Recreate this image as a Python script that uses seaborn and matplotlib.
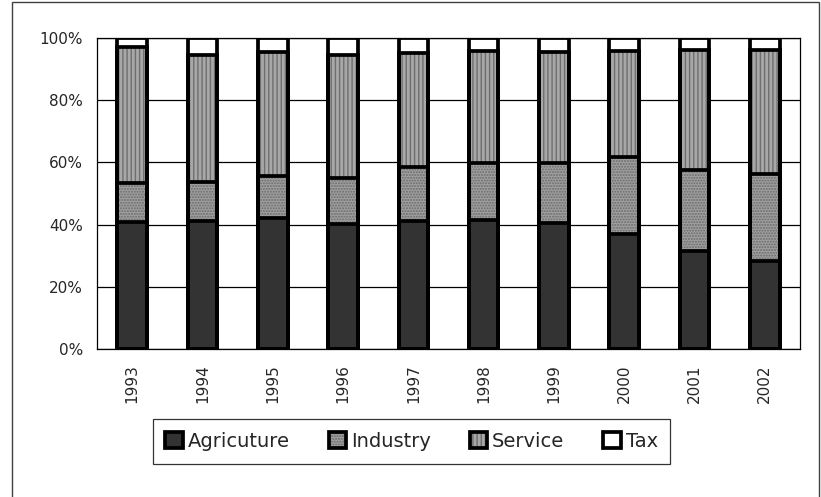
import matplotlib
matplotlib.use("Agg")
import matplotlib.pyplot as plt
from matplotlib.patches import Patch, Rectangle
from matplotlib.ticker import PercentFormatter, FixedLocator
import seaborn as sns

# data (shares in %)
years = ["1993", "1994", "1995", "1996", "1997", "1998", "1999", "2000", "2001", "2002"]
agriculture = [40.9, 41.3, 42.0, 40.2, 41.3, 41.5, 40.4, 36.9, 31.5, 28.4]
industry = [12.6, 12.5, 13.7, 14.9, 17.1, 18.2, 19.3, 24.7, 26.1, 27.9]
service = [43.5, 40.7, 39.7, 39.4, 36.7, 36.2, 35.9, 34.3, 38.5, 39.8]
tax = [3.0, 5.5, 4.6, 5.5, 4.9, 4.1, 4.4, 4.1, 3.9, 3.9]

series_names = ["Agricuture", "Industry", "Service", "Tax"]

# cumulative tops, drawn from tallest to shortest so lower segments overlap
top_agri = agriculture
top_ind = [a + b for a, b in zip(top_agri, industry)]
top_serv = [a + b for a, b in zip(top_ind, service)]
top_tax = [a + b for a, b in zip(top_serv, tax)]

sns.set_style("white")
plt.rcParams["font.family"] = ["DejaVu Sans"]
plt.rcParams["hatch.linewidth"] = 1.0

fig = plt.figure(figsize=(8.21, 4.97), dpi=100)
ax = fig.add_axes([97 / 821, 1 - 349 / 497, 703 / 821, 311 / 497])

bar_w = 0.42
edge_lw = 2.7
styles = [
    (top_tax, "white", "", "white"),
    (top_serv, "#a8a8a8", "||||", "#6e6e6e"),
    (top_ind, "#a0a0a0", "......", "#6a6a6a"),
    (top_agri, "#333333", "", "#333333"),
]
for tops, face, hatch, hcol in styles:
    sns.barplot(x=years, y=tops, color=face, saturation=1, width=bar_w,
                hatch=hatch, edgecolor=hcol, linewidth=0, ax=ax, zorder=2)
for tops, *_ in styles:
    sns.barplot(x=years, y=tops, fill=False, color="black", width=bar_w,
                linewidth=edge_lw, ax=ax, zorder=3)

ax.set_xlim(-0.5, len(years) - 0.5)
ax.set_ylim(0, 100)
ax.yaxis.set_major_locator(FixedLocator([0, 20, 40, 60, 80, 100]))
ax.yaxis.set_major_formatter(PercentFormatter(decimals=0))
ax.grid(axis="y", color="black", linewidth=0.9, zorder=0)
ax.set_axisbelow(True)
for sp in ax.spines.values():
    sp.set_color("black")
    sp.set_linewidth(0.9)

ax.set_xticks(range(len(years)))
ax.set_xticklabels(years, rotation=90)
ax.xaxis.set_minor_locator(FixedLocator([i - 0.5 for i in range(len(years) + 1)]))
ax.tick_params(axis="x", which="major", length=0, pad=11, labelsize=11)
ax.tick_params(axis="x", which="minor", length=5, width=0.9, color="black", direction="out")
ax.tick_params(axis="y", length=8, width=0.9, color="black", direction="out",
               labelsize=11, pad=2)
ax.set_xlabel("")
ax.set_ylabel("")

# legend with patterned squares and black outlines
legend_face = [("#333333", ""), ("#a0a0a0", "......"), ("#a8a8a8", "||||"), ("white", "")]
hatch_col = ["#333333", "#6a6a6a", "#6e6e6e", "white"]
handles = []
for (face, hatch), hc in zip(legend_face, hatch_col):
    inner = Patch(facecolor=face, hatch=hatch, edgecolor=hc, linewidth=0)
    outline = Patch(facecolor="none", edgecolor="black", linewidth=edge_lw)
    handles.append((inner, outline))
leg = fig.legend(handles, series_names, loc="center", ncol=4,
                 bbox_to_anchor=(411.5 / 821, 1 - 441.5 / 497),
                 fontsize=14, frameon=True, fancybox=False, edgecolor="black",
                 handlelength=0.9, handleheight=0.9, handletextpad=0.25,
                 columnspacing=2.0, borderpad=0.65)
leg.get_frame().set_linewidth(0.9)

# outer chart border
fig.patches.append(Rectangle((12 / 821, -0.02), 807 / 821, 1.02 - 2 / 497,
                             transform=fig.transFigure, fill=False,
                             edgecolor="#404040", linewidth=1.0))

plt.savefig("out.png", dpi=100)
